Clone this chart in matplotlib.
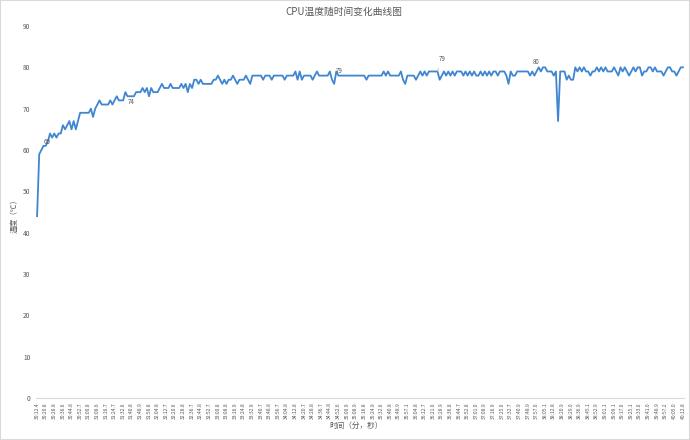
import matplotlib
matplotlib.use("Agg")
import matplotlib.pyplot as plt
from matplotlib.patches import Rectangle

plt.rcParams['font.family'] = ['Noto Sans CJK SC', 'DejaVu Sans']

# temperature samples (about every 2 s)
temps = [
    44, 59, 60, 61, 61, 62, 64, 63, 64, 63,
    64, 64, 66, 65, 66, 67, 65, 67, 65, 67,
    69, 69, 69, 69, 69, 70, 68, 70, 71, 72,
    71, 71, 71, 71, 72, 71, 72, 73, 72, 72,
    72, 74, 73, 73, 73, 73, 74, 74, 74, 75,
    74, 75, 73, 75, 74, 74, 74, 75, 76, 75,
    75, 75, 76, 75, 75, 75, 75, 76, 75, 76,
    74, 76, 75, 77, 77,
    76, 77, 76, 76, 76, 76, 76, 77, 77, 78,
    77, 76, 77, 76, 77, 77, 78, 77, 76, 77,
    77, 77, 78, 77, 76, 78, 78, 78, 78, 78,
    77, 78, 78, 78, 77, 78, 78, 78, 78, 78,
    77, 78, 78, 78, 78, 79, 77, 79, 77, 78,
    78, 78, 78, 77, 78, 79, 78, 78, 78, 78,
    78, 79, 77, 76, 79, 78, 78, 78, 78, 78,
    78, 78, 78, 78, 78,
    78, 78, 78, 77, 78, 78, 78, 78, 78, 78,
    78, 79, 78, 79, 78, 78, 78, 78, 78, 79,
    77, 76, 78, 78, 78, 78, 77, 78, 79, 78,
    79, 78, 79, 79, 79, 79, 79, 77, 78, 79,
    78, 79, 78, 79, 78, 79, 79, 79, 78, 79,
    78, 79, 78, 79, 78, 78, 79, 78, 79, 78,
    79, 78, 79, 79, 78, 79, 79, 79, 78, 76,
    79, 78, 78, 79, 79, 79, 79, 79,
    79, 78, 79, 78, 79, 80, 79, 80, 80, 79,
    79, 79, 78, 79, 67, 79, 79, 79, 77, 78,
    77, 77, 80, 79, 80, 79, 80, 79, 79, 78,
    79, 79, 80, 79, 80, 79, 80, 79, 79, 79,
    80, 79, 78, 80, 79, 80, 79, 78, 79, 80,
    79, 80, 80, 78, 79, 79, 80, 80, 79, 80,
    79, 79, 79, 78, 79, 80, 80, 79, 79, 78,
    79, 80, 80,
]

time_labels = [
    "30:12.4", "30:20.8", "30:28.8", "30:36.6", "30:44.8", "30:52.7", "31:00.8", "31:08.6", "31:16.7", "31:24.7",
    "31:32.6", "31:40.8", "31:48.9", "31:56.8", "32:04.8", "32:12.7", "32:20.6", "32:28.8", "32:36.7", "32:44.8",
    "32:52.7", "33:00.8", "33:08.8", "33:16.9", "33:24.8", "33:32.9", "33:40.7", "33:48.8", "33:56.7", "34:04.8",
    "34:12.8", "34:20.7", "34:28.8", "34:36.7", "34:44.8", "34:52.6", "35:00.9", "35:08.9", "35:16.8", "35:24.9",
    "35:32.6", "35:40.8", "35:48.9", "35:57.1", "36:04.8", "36:12.7", "36:21.0", "36:28.9", "36:36.8", "36:44.7",
    "36:52.8", "37:01.0", "37:08.9", "37:16.9", "37:25.0", "37:32.7", "37:40.9", "37:48.9", "37:57.0", "38:05.1",
    "38:12.8", "38:20.9", "38:29.0", "38:36.9", "38:45.1", "38:52.9", "39:01.1", "39:09.1", "39:17.0", "39:25.1",
    "39:33.0", "39:41.0", "39:48.9", "39:57.2", "40:05.0", "40:12.8",
]

# points that carry a data label
labelled_points = [2, 41, 139, 186, 233]

grey = "#595959"
blue = "#3f86d0"

fig = plt.figure(figsize=(6.9, 4.4), dpi=100)
ax = fig.add_axes([36 / 690, 42 / 440, 648 / 690, 372 / 440])

xs = list(range(len(temps)))
ax.plot(xs, temps, color=blue, linewidth=1.3, solid_joinstyle="round")

ax.set_xlim(-0.5, len(temps) - 0.5)
ax.set_ylim(0, 90)
ax.set_yticks(range(0, 91, 10))
ax.tick_params(axis="y", length=0, pad=4, labelsize=4.8, labelcolor=grey)

tick_pos = list(range(0, len(temps), 4))[:len(time_labels)]
ax.set_xticks(tick_pos)
ax.set_xticklabels(time_labels[:len(tick_pos)], rotation=90, fontsize=3.6, color=grey)
ax.tick_params(axis="x", length=0, pad=3)

for side in ["top", "right", "left"]:
    ax.spines[side].set_visible(False)
ax.spines["bottom"].set_color("#d9d9d9")
ax.spines["bottom"].set_linewidth(0.8)

# data labels (offsets in points)
offsets = [(4, 6), (4, -7), (2, 0), (3, 9), (-2, 4)]
for idx, (dx, dy) in zip(labelled_points, offsets):
    if idx == 186:
        ax.annotate(str(temps[idx]), xy=(idx, temps[idx]), xytext=(dx, dy),
                    textcoords="offset points", ha="center", va="center",
                    fontsize=4.5, color=grey,
                    arrowprops=dict(arrowstyle="-", color="#a6a6a6", lw=0.5,
                                    shrinkA=2, shrinkB=0))
    else:
        ax.annotate(str(temps[idx]), xy=(idx, temps[idx]), xytext=(dx, dy),
                    textcoords="offset points", ha="center", va="center",
                    fontsize=4.5, color=grey)

fig.text(344 / 690, 1 - 12 / 440, "CPU温度随时间变化曲线图",
         ha="center", va="center", fontsize=7, color=grey)
fig.text(15 / 690, 1 - 214 / 440, "温度（℃）", rotation=90,
         ha="center", va="center", fontsize=5.5, color=grey)
fig.text(356 / 690, 1 - 426 / 440, "时间（分，秒）",
         ha="center", va="center", fontsize=5.5, color=grey)

fig.add_artist(Rectangle((0, 0), 1, 1, transform=fig.transFigure, fill=False,
                         edgecolor="#d9d9d9", linewidth=1.5))

fig.savefig("out.png", dpi=100)
